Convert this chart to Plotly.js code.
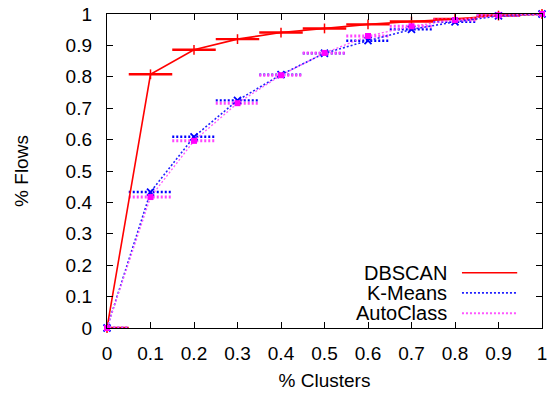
<!DOCTYPE html>
<html>
<head>
<meta charset="utf-8">
<script src="https://cdn.plot.ly/plotly-3.0.1.min.js"></script>
<style>
  html, body { margin: 0; padding: 0; background: #fff; }
  #chart { width: 552px; height: 394px; }
</style>
</head>
<body>
<div id="chart"></div>
<script>
// Cumulative share of flows covered by the top fraction of clusters
const clusterFrac = [0, 0.1, 0.2, 0.3, 0.4, 0.5, 0.6, 0.7, 0.8, 0.9, 1.0];
const dbscan    = [0, 0.808, 0.886, 0.920, 0.941, 0.954, 0.967, 0.976, 0.984, 0.995, 1.0];
const kmeans    = [0, 0.433, 0.609, 0.725, 0.807, 0.875, 0.915, 0.951, 0.975, 0.994, 1.0];
const autoclass = [0, 0.417, 0.596, 0.716, 0.805, 0.876, 0.930, 0.961, 0.981, 0.996, 1.0];
const barHalfWidth = 0.05;   // horizontal error-bar half width (x units)

const xTicks = [0, 0.1, 0.2, 0.3, 0.4, 0.5, 0.6, 0.7, 0.8, 0.9, 1];
const xTickText = ['0', '0.1', '0.2', '0.3', '0.4', '0.5', '0.6', '0.7', '0.8', '0.9', '1'];
const yTicks = [0, 0.1, 0.2, 0.3, 0.4, 0.5, 0.6, 0.7, 0.8, 0.9, 1];
const yTickText = ['0', '0.1', '0.2', '0.3', '0.4', '0.5', '0.6', '0.7', '0.8', '0.9', '1'];

const seriesNames = ['DBSCAN', 'K-Means', 'AutoClass'];

const FONT = 'Liberation Sans, Arial, Helvetica, sans-serif';
const FINE_DOT = '2px,2px';

// Build horizontal bar segments around each point
function barSegments(xs, ys, hw) {
  const bx = [], by = [];
  xs.forEach((x, i) => {
    bx.push(x - hw, x + hw, null);
    by.push(ys[i], ys[i], null);
  });
  return { x: bx, y: by };
}

const styles = [
  { data: dbscan,    color: '#ff0000', bcolor: '#ff0000', dash: 'solid', lw: 1.6, bw: 2.4, bdash: 'solid',
    marker: { symbol: 'line-ns', size: 7, line: { color: '#ff0000', width: 1.5 } } },
  { data: kmeans,    color: '#2020ff', bcolor: '#0000ff', dash: FINE_DOT, lw: 1.6, bw: 2.4, bdash: FINE_DOT,
    marker: { symbol: 'x-thin', size: 7, line: { color: '#0000ff', width: 1.8 } } },
  { data: autoclass, color: '#ff55ff', bcolor: '#ff44ff', dash: FINE_DOT, lw: 1.3, bw: 3, bdash: FINE_DOT,
    marker: { symbol: 'square', size: 6, color: '#ff00ff', line: { width: 0 } } }
];

const traces = [];
styles.forEach((s) => {
  const seg = barSegments(clusterFrac, s.data, barHalfWidth);
  traces.push({
    x: seg.x, y: seg.y, mode: 'lines', type: 'scatter',
    line: { color: s.bcolor, width: s.bw, dash: s.bdash },
    hoverinfo: 'skip', showlegend: false, connectgaps: false
  });
});
styles.forEach((s, i) => {
  traces.push({
    x: clusterFrac, y: s.data, mode: 'lines+markers', type: 'scatter',
    name: seriesNames[i],
    line: { color: s.color, width: s.lw, dash: s.dash },
    marker: s.marker, cliponaxis: false, showlegend: false
  });
});

// Legend: text on the left, line sample on the right
const legendRows = [0.176, 0.112, 0.047];
const annotations = seriesNames.map((n, i) => ({
  xref: 'paper', yref: 'paper', x: 0.786, y: legendRows[i],
  xanchor: 'right', yanchor: 'middle', text: n, showarrow: false,
  font: { family: FONT, size: 20, color: '#000' }
}));
const shapes = styles.map((s, i) => ({
  type: 'line', xref: 'paper', yref: 'paper',
  x0: 0.816, x1: 0.943, y0: legendRows[i], y1: legendRows[i],
  line: { color: s.color, width: i === 0 ? 1.6 : 1.8, dash: s.dash }
}));

const axisCommon = {
  showgrid: false, zeroline: false, showline: true, linecolor: '#000', linewidth: 1.2,
  mirror: 'ticks', ticks: 'inside', ticklen: 6, tickwidth: 1, tickcolor: '#000',
  tickfont: { family: FONT, size: 19, color: '#000' }, fixedrange: true
};

const layout = {
  width: 552, height: 394,
  margin: { l: 107, r: 10, t: 14, b: 66 },
  paper_bgcolor: '#fff', plot_bgcolor: '#fff',
  showlegend: false,
  xaxis: Object.assign({}, axisCommon, {
    range: [0, 1], tickvals: xTicks, ticktext: xTickText,
    ticklabelstandoff: 8,
    title: { text: '% Clusters', font: { family: FONT, size: 19, color: '#000' }, standoff: 10 }
  }),
  yaxis: Object.assign({}, axisCommon, {
    range: [0, 1], tickvals: yTicks, ticktext: yTickText,
    ticklabelstandoff: 10,
    title: { text: '% Flows', font: { family: FONT, size: 19, color: '#000' }, standoff: 32 }
  }),
  annotations: annotations,
  shapes: shapes
};

Plotly.newPlot('chart', traces, layout, { displayModeBar: false, staticPlot: true });
</script>
</body>
</html>
